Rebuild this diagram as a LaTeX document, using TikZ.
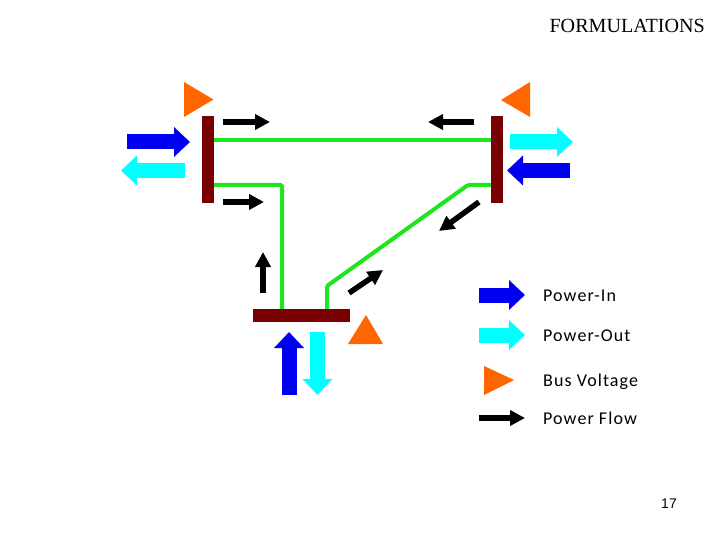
\documentclass[tikz,border=0pt]{standalone}
\usepackage{fontspec}
\setmainfont{Liberation Serif}
\newfontfamily\legendfont[LetterSpace=6]{Carlito}
\newfontfamily\pagefont{Liberation Sans}
\usetikzlibrary{positioning,calc}
\usetikzlibrary{arrows.meta}
\definecolor{BusRed}{RGB}{120,0,0}
\definecolor{LineGreen}{RGB}{30,230,30}
\definecolor{VoltOrange}{RGB}{255,102,0}
\definecolor{InBlue}{RGB}{0,0,240}
\definecolor{OutCyan}{RGB}{0,255,255}
\tikzset{
	bus/.style={fill=BusRed,inner sep=0pt,minimum width=12pt,minimum height=87pt},
	hbus/.style={fill=BusRed,inner sep=0pt,minimum width=97pt,minimum height=13pt},
	branch/.style={draw=LineGreen,line width=4pt,rounded corners=1.5pt},
	volt/.style={fill=VoltOrange},
	block/.style={line width=15pt,-{Triangle[length=16pt,width=29pt]}},
	flow/.style={draw=black,line width=5.5pt,-{Triangle[length=15pt,width=15pt]}},
	legend/.style={font=\legendfont\fontsize{18}{20}\selectfont,anchor=base west,inner sep=0pt},
}
\begin{document}
\begin{tikzpicture}[x=1pt,y=-1pt]
	\useasboundingbox (0,0) rectangle (720,540);
	\node[bus] (busl) at (208,159.5) {};
	\node[bus] (busr) at (497,159.5) {};
	\node[hbus] (busb) at (301.5,315.5) {};
	\draw[branch] ($(busl.east)+(0,-19.5)$)--($(busr.west)+(0,-19.5)$);
	\draw[branch] ($(busl.east)+(0,25.5)$)--(282,185)--(282,185 |- busb.north);
	\draw[branch] ($(busr.west)+(0,25.5)$)--(468,185)--(327,286)--(327,286 |- busb.north);
	\fill[volt] (184,82)--(213.5,99.5)--(184,117)--cycle;
	\fill[volt] (530,82)--(501,100)--(530,117)--cycle;
	\fill[volt] (348,344)--(366,315)--(383,344)--cycle;
	\coordinate (lit) at (127,142);
	\coordinate (lih) at (190,142);
	\coordinate (lot) at (185,170.5);
	\coordinate (loh) at (121,170.5);
	\coordinate (rot) at (510,142);
	\coordinate (roh) at (573,142);
	\coordinate (rit) at (570,170.5);
	\coordinate (rih) at (507,170.5);
	\coordinate (bit) at (289,395);
	\coordinate (bih) at (289,332);
	\coordinate (bot) at (317.5,332);
	\coordinate (boh) at (317.5,395);
	\draw[block,InBlue] (lit)--(lih);
	\draw[block,OutCyan] (lot)--(loh);
	\draw[block,OutCyan] (rot)--(roh);
	\draw[block,InBlue] (rit)--(rih);
	\draw[block,InBlue] (bit)--(bih);
	\draw[block,OutCyan] (bot)--(boh);
	\coordinate (fa) at (223,122);
	\coordinate (fb) at (270,122);
	\coordinate (fc) at (223,202);
	\coordinate (fd) at (264,202);
	\coordinate (fe) at (474,122);
	\coordinate (ff) at (428,122);
	\coordinate (fg) at (479,202);
	\coordinate (fh) at (439,231);
	\coordinate (fi) at (263,293);
	\coordinate (fj) at (263,252);
	\coordinate (fk) at (349,293);
	\coordinate (fl) at (383,270);
	\draw[flow] (fa)--(fb);
	\draw[flow] (fc)--(fd);
	\draw[flow] (fe)--(ff);
	\draw[flow] (fg)--(fh);
	\draw[flow] (fi)--(fj);
	\draw[flow] (fk)--(fl);
	\node[legend] (ltin) at (543,301.5) {Power-In};
	\node[legend] (ltout) at (543,341) {Power-Out};
	\node[legend] (ltvolt) at (543,386) {Bus Voltage};
	\node[legend] (ltflow) at (543,424.5) {Power Flow};
	\coordinate (kit) at (479,295);
	\coordinate (kih) at (525,295);
	\coordinate (kot) at (479,335);
	\coordinate (koh) at (525,335);
	\coordinate (kft) at (479,418);
	\coordinate (kfh) at (525,418);
	\draw[block,InBlue] (kit)--(kih);
	\draw[block,OutCyan] (kot)--(koh);
	\draw[flow] (kft)--(kfh);
	\fill[volt] (484,366)--(514,380)--(484,395)--cycle;
	\node[font=\fontsize{20.1}{22}\selectfont,inner sep=0pt,anchor=east] (title) at (705,25.5) {FORMULATIONS};
	\node[font=\pagefont\fontsize{14}{18}\selectfont,inner sep=0pt] (pagenum) at (669,504) {17};
\end{tikzpicture}
\end{document}
